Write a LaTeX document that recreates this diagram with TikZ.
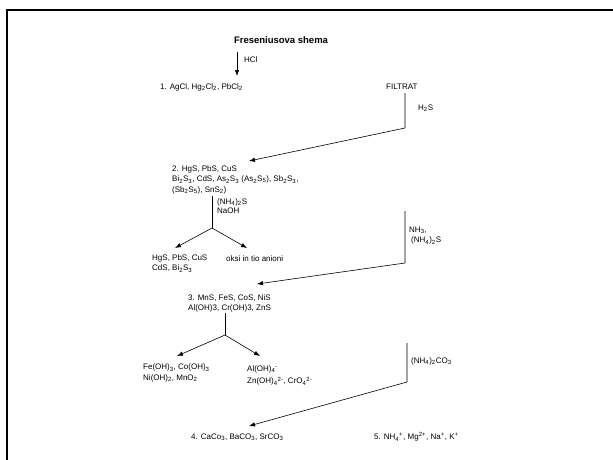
\documentclass[tikz,border=0pt]{standalone}
\usepackage{fontspec}
\setmainfont{Liberation Sans}
\usetikzlibrary{arrows.meta}
\newcommand{\sbs}[1]{\textsubscript{#1}}
\newcommand{\sps}[1]{\textsuperscript{#1}}
\tikzset{
  lbl/.style={font=\fontsize{8}{10.5}\selectfont, inner sep=0pt, anchor=west, align=left},
  arr/.style={-{Latex[length=6pt,width=4.5pt]}, line width=0.6pt},
  ln/.style={line width=0.6pt},
  frame/.style={line width=2pt}
}
\begin{document}
\begin{tikzpicture}[x=1pt,y=-1pt]
\useasboundingbox (0,0) rectangle (613,459);
\fill[white] (0,0) rectangle (613,459);
% frame
\coordinate (fbl) at (6.5,460);
\coordinate (ftl) at (6.5,9.5);
\coordinate (ftr) at (614,9.5);
\draw[frame] (fbl) -- (ftl) -- (ftr);
% title
\node[font=\bfseries\fontsize{9.5}{11}\selectfont, inner sep=0pt] (title) at (281,40) {Freseniusova shema};
% group 1
\coordinate (hcltop) at (237,52);
\coordinate (hclend) at (237,76);
\node[lbl] (hcl) at (244,60) {HCl};
\node[lbl] (n1) at (160,87) {1. AgCl, Hg\sbs{2}Cl\sbs{2}, PbCl\sbs{2}};
\draw[arr] (hcltop) -- (hclend);
% filtrat
\node[lbl] (filt) at (386,87) {FILTRAT};
\coordinate (f1) at (405,93);
\coordinate (f2) at (405,128);
\coordinate (f3) at (249,161);
\node[lbl] (h2s) at (418,108) {H\sbs{2}S};
\draw[arr] (f1) -- (f2) -- (f3);
% group 2
\node[lbl] (n2) at (172,179.5) {2. HgS, PbS, CuS\\Bi\sbs{2}S\sbs{3}, CdS, As\sbs{2}S\sbs{3} (As\sbs{2}S\sbs{5}), Sb\sbs{2}S\sbs{3},\\(Sb\sbs{2}S\sbs{5}), SnS\sbs{2})};
\coordinate (g2top) at (212,196);
\coordinate (g2j) at (212,228);
\coordinate (g2l) at (175,248);
\coordinate (g2r) at (247,248);
\node[lbl] (nh4s) at (217,206) {(NH\sbs{4})\sbs{2}S\\[-1pt]NaOH};
\draw[ln] (g2top) -- (g2j);
\draw[arr] (g2j) -- (g2l);
\draw[arr] (g2j) -- (g2r);
\node[lbl] (hgs) at (152,263.5) {HgS, PbS, CuS\\CdS, Bi\sbs{2}S\sbs{3}};
\node[lbl] (oksi) at (226,259) {oksi in tio anioni};
% NH3
\coordinate (a1) at (405,211);
\coordinate (a2) at (405,263);
\coordinate (a3) at (257,284);
\node[lbl] (nh3) at (409,235.5) {NH\sbs{3},\\\hspace{2pt}(NH\sbs{4})\sbs{2}S};
\draw[arr] (a1) -- (a2) -- (a3);
% group 3
\node[lbl] (n3) at (188,303.5) {3. MnS, FeS, CoS, NiS\\Al(OH)3, Cr(OH)3, ZnS};
\coordinate (g3top) at (225,313);
\coordinate (g3j) at (225,335);
\coordinate (g3l) at (177,356);
\coordinate (g3r) at (260,356);
\draw[ln] (g3top) -- (g3j);
\draw[arr] (g3j) -- (g3l);
\draw[arr] (g3j) -- (g3r);
\node[lbl] (feoh) at (143,373) {Fe(OH)\sbs{3}, Co(OH)\sbs{3}\\Ni(OH)\sbs{2}, MnO\sbs{2}};
\node[lbl] (aloh) at (247,375.5) {Al(OH)\sbs{4}\sps{-}\\[2pt]Zn(OH)\sbs{4}\sps{2-}, CrO\sbs{4}\sps{2-}};
% carbonate
\coordinate (c1) at (407,343);
\coordinate (c2) at (407,382);
\coordinate (c3) at (249,426);
\node[lbl] (co3) at (411,361) {(NH\sbs{4})\sbs{2}CO\sbs{3}};
\draw[arr] (c1) -- (c2) -- (c3);
\node[lbl] (n4) at (191,437) {4. CaCo\sbs{3}, BaCO\sbs{3}, SrCO\sbs{3}};
\node[lbl] (n5) at (374,437) {5. NH\sbs{4}\sps{+}, Mg\sps{2+}, Na\sps{+}, K\sps{+}};
\end{tikzpicture}
\end{document}
